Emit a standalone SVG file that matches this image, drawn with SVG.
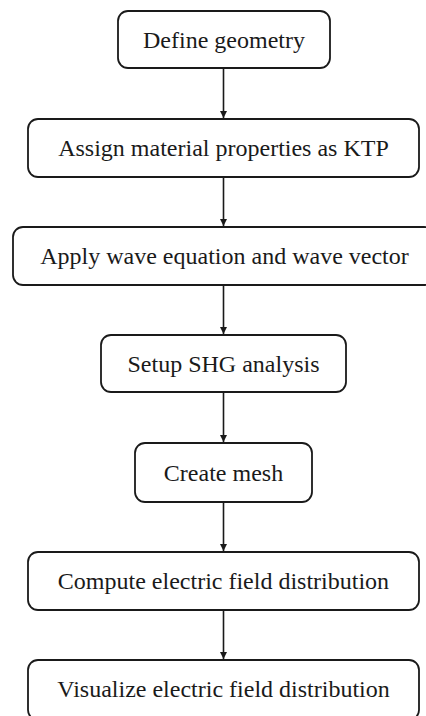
<svg xmlns="http://www.w3.org/2000/svg" width="426" height="716" viewBox="0 0 426 716">
<style>
.box{fill:#fff;stroke:#1a1a1a;stroke-width:1.8}
.lbl{font-family:"Liberation Serif","Times New Roman",serif;font-size:24px;fill:#1a1a1a;text-anchor:middle}
.con{stroke:#1a1a1a;stroke-width:1.6;fill:none;marker-end:url(#ah)}
</style>
<defs>
<marker id="ah" viewBox="0 0 10 10" refX="10" refY="5" markerWidth="7" markerHeight="7" markerUnits="userSpaceOnUse" orient="auto">
<path d="M0,0 L10,5 L0,10 z" fill="#1a1a1a"/>
</marker>
</defs>
<rect width="426" height="716" fill="#fff"/>
<g id="connectors">
<line class="con" x1="223.5" y1="68" x2="223.5" y2="118"/>
<line class="con" x1="223.5" y1="177" x2="223.5" y2="226"/>
<line class="con" x1="223.5" y1="285" x2="223.5" y2="334"/>
<line class="con" x1="223.5" y1="392" x2="223.5" y2="442"/>
<line class="con" x1="223.5" y1="502" x2="223.5" y2="551"/>
<line class="con" x1="223.5" y1="610" x2="223.5" y2="659"/>
</g>
<g id="n1"><rect class="box" x="118" y="11" width="212" height="57" rx="10"/><text class="lbl" x="224" y="48">Define geometry</text></g>
<g id="n2"><rect class="box" x="28" y="119" width="391" height="58" rx="10"/><text class="lbl" x="223.5" y="156">Assign material properties as KTP</text></g>
<g id="n3"><rect class="box" x="13" y="227" width="421" height="58" rx="10"/><text class="lbl" x="224.5" y="264">Apply wave equation and wave vector</text></g>
<g id="n4"><rect class="box" x="101" y="335" width="245" height="57" rx="10"/><text class="lbl" x="223.5" y="372">Setup SHG analysis</text></g>
<g id="n5"><rect class="box" x="135" y="443" width="177" height="59" rx="10"/><text class="lbl" x="223.5" y="481">Create mesh</text></g>
<g id="n6"><rect class="box" x="28" y="552" width="391" height="58" rx="10"/><text class="lbl" x="223.5" y="589">Compute electric field distribution</text></g>
<g id="n7"><rect class="box" x="28" y="660" width="391" height="60" rx="10"/><text class="lbl" x="223.5" y="697">Visualize electric field distribution</text></g>
</svg>
